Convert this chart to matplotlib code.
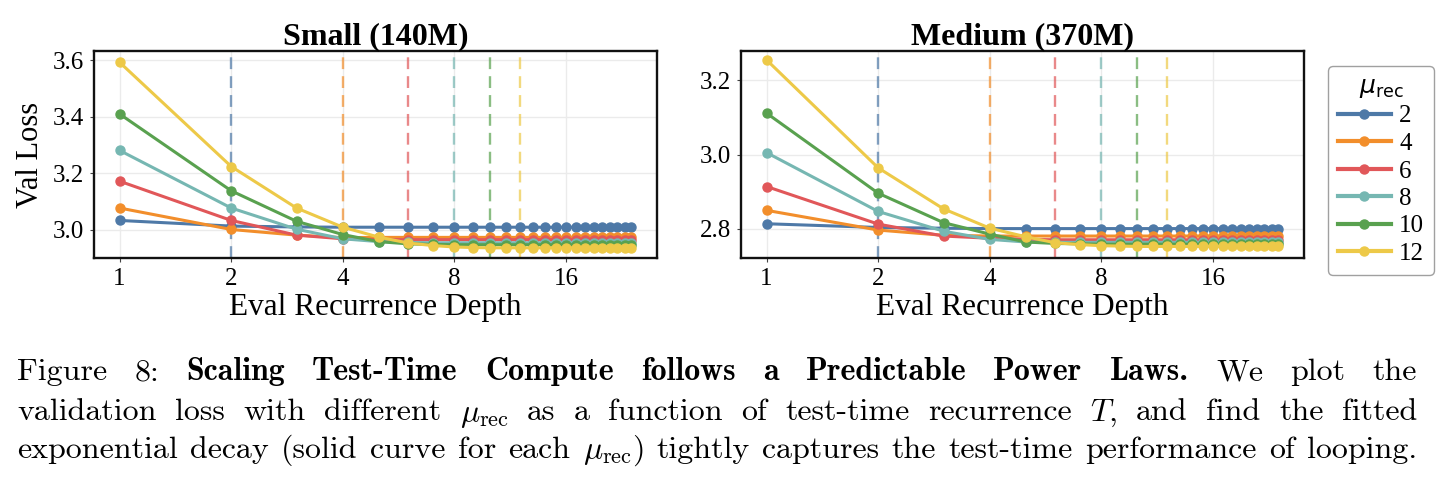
import matplotlib
matplotlib.use("Agg")
import matplotlib.pyplot as plt
from matplotlib.ticker import NullLocator

plt.rcParams['font.family'] = 'Liberation Serif'

# eval recurrence depth (x axis)
depth = [1, 2, 3, 4, 5, 6, 7, 8, 9, 10, 11, 12,
         13, 14, 15, 16, 17, 18, 19, 20, 21, 22, 23, 24]
mu_rec = [2, 4, 6, 8, 10, 12]
colors = ['#4e79a7', '#f28e2b', '#e15759', '#76b7b2', '#59a14f', '#edc948']

# Small (140M) val loss, one list per mu_rec
small_2 = [3.033, 3.013, 3.010, 3.009, 3.009, 3.009, 3.009, 3.009, 3.009, 3.009, 3.009, 3.009,
           3.009, 3.009, 3.009, 3.009, 3.009, 3.009, 3.009, 3.009, 3.009, 3.009, 3.009, 3.009]
small_4 = [3.077, 3.001, 2.981, 2.972, 2.973, 2.973, 2.973, 2.973, 2.973, 2.973, 2.973, 2.973,
           2.973, 2.973, 2.973, 2.973, 2.973, 2.973, 2.973, 2.973, 2.973, 2.973, 2.973, 2.973]
small_6 = [3.172, 3.033, 2.981, 2.968, 2.965, 2.965, 2.965, 2.965, 2.965, 2.965, 2.965, 2.965,
           2.965, 2.965, 2.965, 2.965, 2.965, 2.965, 2.965, 2.965, 2.965, 2.965, 2.965, 2.965]
small_8 = [3.281, 3.077, 3.002, 2.968, 2.958, 2.955, 2.954, 2.954, 2.954, 2.954, 2.954, 2.954,
           2.954, 2.954, 2.954, 2.954, 2.954, 2.954, 2.954, 2.954, 2.954, 2.954, 2.954, 2.954]
small_10 = [3.410, 3.138, 3.030, 2.983, 2.958, 2.950, 2.948, 2.947, 2.947, 2.947, 2.947, 2.947,
            2.947, 2.947, 2.947, 2.947, 2.947, 2.947, 2.947, 2.947, 2.947, 2.947, 2.947, 2.947]
small_12 = [3.593, 3.224, 3.077, 3.009, 2.974, 2.953, 2.944, 2.939, 2.937, 2.936, 2.936, 2.936,
            2.936, 2.936, 2.936, 2.936, 2.936, 2.936, 2.936, 2.936, 2.936, 2.936, 2.936, 2.936]

# Medium (370M) val loss
medium_2 = [2.814, 2.804, 2.802, 2.801, 2.801, 2.801, 2.801, 2.801, 2.801, 2.801, 2.801, 2.801,
            2.801, 2.801, 2.801, 2.801, 2.801, 2.801, 2.801, 2.801, 2.801, 2.801, 2.801, 2.801]
medium_4 = [2.850, 2.797, 2.783, 2.781, 2.781, 2.781, 2.781, 2.781, 2.781, 2.781, 2.781, 2.781,
            2.781, 2.781, 2.781, 2.781, 2.781, 2.781, 2.781, 2.781, 2.781, 2.781, 2.781, 2.781]
medium_6 = [2.914, 2.813, 2.781, 2.775, 2.772, 2.771, 2.771, 2.771, 2.771, 2.771, 2.771, 2.771,
            2.771, 2.771, 2.771, 2.771, 2.771, 2.771, 2.771, 2.771, 2.771, 2.771, 2.771, 2.771]
medium_8 = [3.005, 2.847, 2.794, 2.772, 2.765, 2.764, 2.764, 2.764, 2.764, 2.764, 2.764, 2.764,
            2.764, 2.764, 2.764, 2.764, 2.764, 2.764, 2.764, 2.764, 2.764, 2.764, 2.764, 2.764]
medium_10 = [3.111, 2.896, 2.817, 2.786, 2.765, 2.761, 2.760, 2.759, 2.759, 2.759, 2.759, 2.759,
             2.759, 2.759, 2.759, 2.759, 2.759, 2.759, 2.759, 2.759, 2.759, 2.759, 2.759, 2.759]
medium_12 = [3.254, 2.964, 2.854, 2.802, 2.779, 2.763, 2.758, 2.755, 2.754, 2.753, 2.753, 2.753,
             2.753, 2.753, 2.753, 2.753, 2.753, 2.753, 2.753, 2.753, 2.753, 2.753, 2.753, 2.753]

small = [small_2, small_4, small_6, small_8, small_10, small_12]
medium = [medium_2, medium_4, medium_6, medium_8, medium_10, medium_12]

W, H = 1436, 488
fig = plt.figure(figsize=(W / 100, H / 100), dpi=100)
ax1 = fig.add_axes([94 / W, 1 - 258 / H, 563 / W, 207 / H])
ax2 = fig.add_axes([741 / W, 1 - 258 / H, 563 / W, 207 / H])

panels = [
    (ax1, small, 'Small (140M)', (2.90, 3.633), [3.0, 3.2, 3.4, 3.6]),
    (ax2, medium, 'Medium (370M)', (2.722, 3.278), [2.8, 3.0, 3.2]),
]

for ax, series, title, ylim, yticks in panels:
    for mu, vals, c in zip(mu_rec, series, colors):
        ax.plot(depth, vals, color=c, lw=2.2, marker='o', ms=6.5, label=str(mu), zorder=3)
        ax.axvline(mu, color=c, ls=(0, (5, 3)), lw=1.7, alpha=0.7, zorder=2)
    ax.set_xscale('log', base=2)
    ax.set_xticks([1, 2, 4, 8, 16])
    ax.set_xticklabels(['1', '2', '4', '8', '16'], family='Liberation Serif')
    ax.xaxis.set_minor_locator(NullLocator())
    ax.set_yticks(yticks)
    ax.set_yticklabels([f'{t:.1f}' for t in yticks], family='Liberation Serif')
    ax.set_ylim(*ylim)
    ax.grid(color='#ebebeb', lw=1.0)
    ax.set_axisbelow(True)
    for s in ax.spines.values():
        s.set_linewidth(1.7)
        s.set_color('#111111')
    ax.tick_params(labelsize=18, length=3, width=0.8, color='#444444', pad=4)
    ax.set_title(title, fontsize=23, fontweight='bold', pad=5)
    ax.set_xlabel('Eval Recurrence Depth', fontsize=22.5, labelpad=2)

ax1.set_ylabel('Val Loss', fontsize=22, labelpad=6)

leg = ax2.legend(title=r'$\mu_{\rm rec}$', loc='upper left',
                 bbox_to_anchor=(1328 / W, 1 - 66 / H), bbox_transform=fig.transFigure,
                 borderaxespad=0, prop={'family': 'Liberation Serif', 'size': 18},
                 title_fontsize=18, frameon=True,
                 fancybox=True, edgecolor='#888888', handlelength=2.1,
                 labelspacing=0.2, borderpad=0.4, handletextpad=0.35)
leg.get_frame().set_linewidth(1.0)
for h in leg.get_lines():
    h.set_linewidth(3)

# caption, justified word by word between x0 and x1
caption = [
    (380.5, [("Figure 8:", 'cmr10'),
             ("Scaling Test-Time Compute follows a Predictable Power Laws.", 'cmb10'),
             ("We plot the", 'cmr10')]),
    (420.5, [(r"validation loss with different $\mu_\mathrm{rec}$ as a function of "
              r"test-time recurrence $T$, and find the fitted", 'cmr10')]),
    (458.0, [(r"exponential decay (solid curve for each $\mu_\mathrm{rec}$) tightly "
              r"captures the test-time performance of looping.", 'cmr10')]),
]
x0, x1 = 17, 1417
renderer = fig.canvas.get_renderer()
for y, segments in caption:
    words = []
    for txt, fam in segments:
        for w in txt.split(' '):
            t = fig.text(0, 1 - y / H, w, fontsize=23, family=fam,
                         math_fontfamily='cm', va='baseline', ha='left')
            words.append(t)
    widths = [t.get_window_extent(renderer).width for t in words]
    gap = (x1 - x0 - sum(widths)) / (len(words) - 1)
    pos = x0
    for t, wd in zip(words, widths):
        t.set_x(pos / W)
        pos += wd + gap

fig.savefig('out.png', dpi=100)
